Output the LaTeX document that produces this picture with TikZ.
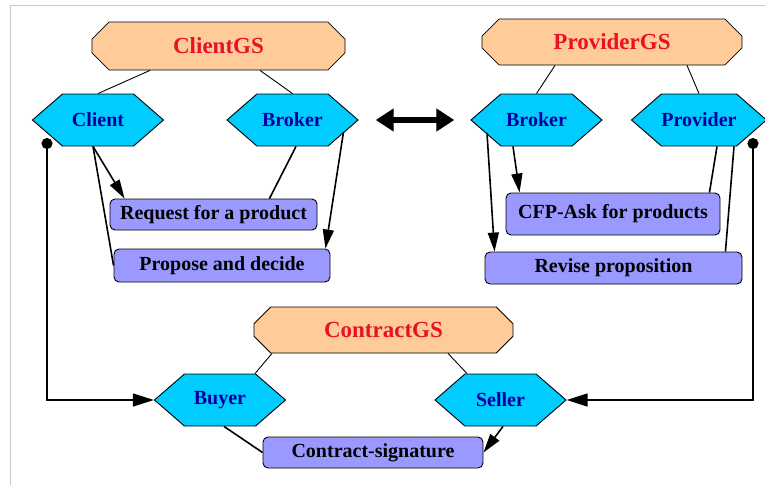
\documentclass[tikz,border=0pt]{standalone}
\usepackage{fontspec}
\setmainfont{Liberation Serif}
\usepackage{xcolor}
\usetikzlibrary{arrows.meta, positioning, calc, shapes.misc, shapes.symbols}

\definecolor{gsfill}{RGB}{255,204,153}
\definecolor{gstext}{RGB}{232,18,36}
\definecolor{rolefill}{RGB}{0,204,255}
\definecolor{roletext}{RGB}{0,0,160}
\definecolor{taskfill}{RGB}{153,153,255}
\definecolor{framegray}{RGB}{200,200,200}

\begin{document}
\begin{tikzpicture}[x=1pt, y=-1pt,
			gs/.style={chamfered rectangle, chamfered rectangle xsep=9pt, chamfered rectangle ysep=9pt, draw, line width=0.8pt, fill=gsfill, text=gstext, font=\fontsize{23}{26}\selectfont\bfseries, inner sep=0pt},
			role/.style={signal, signal to=west and east, signal pointer angle=82, draw, line width=0.9pt, fill=rolefill, text=roletext, font=\fontsize{20}{24}\selectfont\bfseries, minimum width=131pt, minimum height=52pt, inner sep=0pt},
			task/.style={draw, rounded corners=5pt, line width=0.9pt, fill=taskfill, font=\fontsize{20}{24}\selectfont\bfseries, inner sep=0pt},
			link/.style={line width=0.9pt},
			conn/.style={line width=1.6pt},
			arrow/.style={conn, -{Triangle[length=19pt, width=11pt]}},
			loop/.style={conn, {Circle[length=11pt]}-{Triangle[length=21pt, width=13pt]}},
			dbl/.style={line width=6pt, {Triangle[length=18pt, width=22pt]}-{Triangle[length=18pt, width=22pt]}}
			]
			\useasboundingbox (0,0) rectangle (765,485);
			\draw[framegray, line width=1pt] (10.5,485) -- (10.5,5) -- (765,5);
			
			% Goal structures
			\node[gs, minimum width=253pt, minimum height=48pt] (clientgs) at (218.5,46) {ClientGS};
			\node[gs, minimum width=260pt, minimum height=46pt] (providergs) at (612,42) {ProviderGS};
			\node[gs, minimum width=259pt, minimum height=46pt] (contractgs) at (383.5,330) {ContractGS};
			
			% Roles
			\node[role] (client) at (98,120) {Client};
			\node[role] (cbroker) at (292.5,120) {Broker};
			\node[role] (pbroker) at (536.5,120) {Broker};
			\node[role] (provider) at (699,120) {Provider};
			\node[role] (buyer) at (220,400) {Buyer};
			\node[role] (seller) at (500.5,400) {Seller};
			
			% Tasks
			\node[task, minimum width=207pt, minimum height=31pt] (request) at (213.5,214.5) {Request for a product};
			\node[task, minimum width=216pt, minimum height=33pt] (propose) at (222,265.5) {Propose and decide};
			\node[task, minimum width=214pt, minimum height=42pt] (cfp) at (613,214) {CFP-Ask for products};
			\node[task, minimum width=257pt, minimum height=32pt] (revise) at (613.5,268) {Revise proposition};
			\node[task, minimum width=220pt, minimum height=31pt] (signature) at (373,452.5) {Contract-signature};
			
			% Roles of each goal structure
			\draw[link] ($(clientgs.south)+(-68.5,0)$) -- (client.north);
			\draw[link] ($(clientgs.south)+(41.5,0)$) -- (cbroker.north);
			\draw[link] ($(providergs.south)+(-57,0)$) -- (pbroker.north);
			\draw[link] ($(providergs.south)+(75,0)$) -- (provider.north);
			\draw[link] ($(contractgs.south)+(-111.5,0)$) -- ($(buyer.north)+(35,0)$);
			\draw[link] ($(contractgs.south)+(64.5,0)$) -- ($(seller.north)+(-33.5,0)$);
			
			% ClientGS
			\draw[arrow] ($(client.south)+(-5,0)$) -- ($(request.north west)+(15,0)$);
			\draw[conn] ($(client.south)+(-5,0)$) -- (propose.west);
			\draw[conn] ($(cbroker.south)+(3.5,0)$) -- ($(request.north east)+(-48,0)$);
			\draw[arrow] ($(cbroker)+(51,12)$) -- ($(propose.north east)+(-5,0)$);
			
			% ProviderGS
			\draw[arrow] ($(pbroker)+(-49.5,13)$) -- ($(revise.north west)+(10,0)$);
			\draw[arrow] ($(pbroker.south)+(-23.5,0)$) -- ($(cfp.north west)+(14,0)$);
			\draw[conn] ($(provider.south)+(18,0)$) -- ($(cfp.north east)+(-11,0)$);
			\draw[conn] ($(provider.south)+(35,0)$) -- ($(revise.north east)+(-17,0)$);
			
			% Brokers
			\draw[dbl, shorten <=17pt, shorten >=16pt] (cbroker.east) -- (pbroker.west);
			
			% ContractGS
			\draw[loop] ($(client)+(-51,18)$) |- (buyer.west);
			\draw[loop] ($(provider)+(54,18)$) |- (seller.east);
			\draw[conn] ($(buyer.south)+(4,0)$) -- (signature.west);
			\draw[arrow] ($(seller.south)+(2.5,0)$) -- (signature.east);
			
		\end{tikzpicture}
\end{document}
